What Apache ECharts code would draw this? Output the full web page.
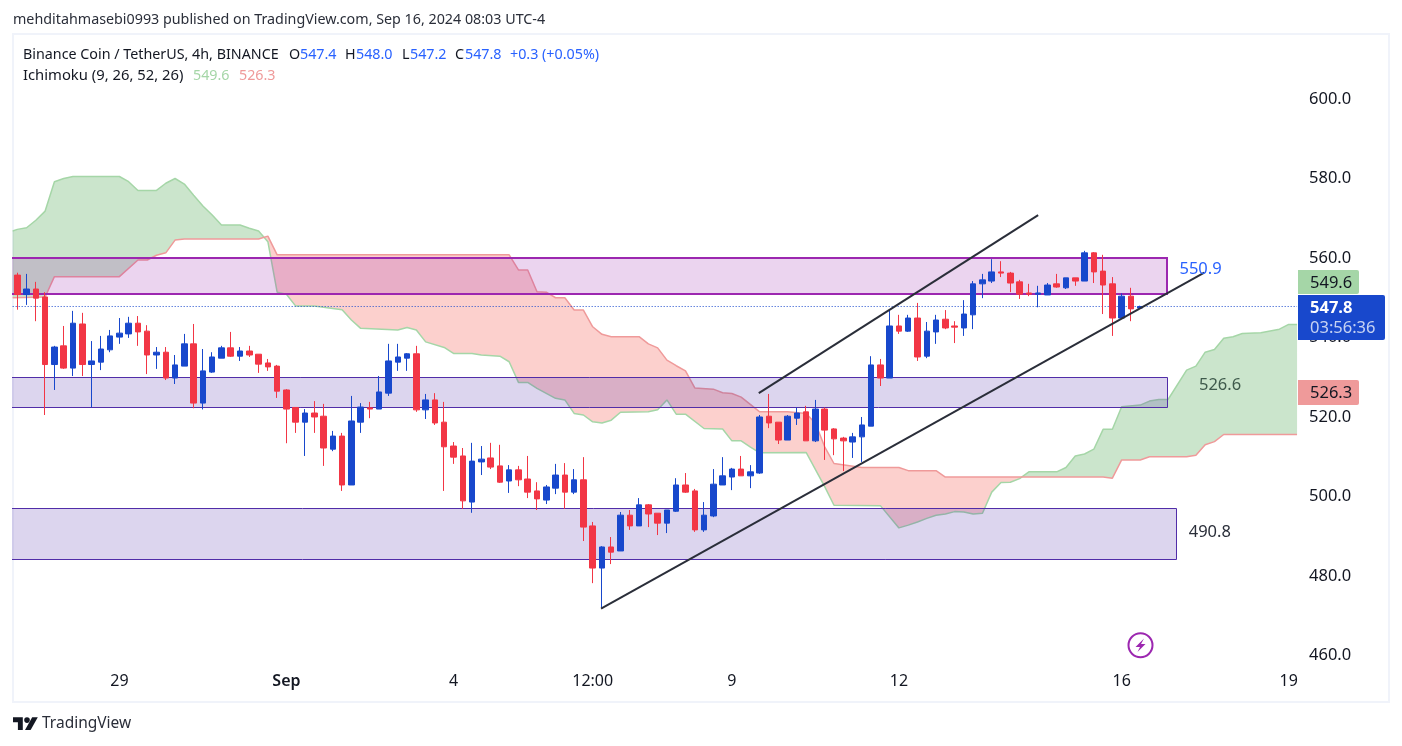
<!DOCTYPE html>
<html>
<head>
<meta charset="utf-8">
<title>Binance Coin / TetherUS, 4h</title>
<script src="https://cdn.jsdelivr.net/npm/echarts@6/dist/echarts.min.js"></script>
<style>
html, body { margin: 0; padding: 0; background: #ffffff; }
#main { width: 1402px; height: 746px; }
</style>
</head>
<body>
<div id="main"></div>
<script>
// open, close, low, high - one row per 4h bar
const candles = [
  [555.7,550.8,547.0,556.3],[550.8,552.2,548.2,556.0],[552.2,549.9,544.1,554.0],[550.2,533.2,520.5,551.4],
  [533.2,537.6,526.8,537.9],[537.9,532.3,532.1,542.9],[532.3,543.6,530.3,546.7],[543.4,533.2,530.3,546.2],
  [533.2,534.1,522.4,539.1],[533.8,537.1,531.8,540.4],[536.9,540.4,536.3,541.9],[540.1,541.1,538.4,544.9],
  [540.9,543.6,539.9,545.2],[543.6,541.4,537.9,545.4],[541.6,535.6,530.8,543.1],[535.6,536.3,532.1,537.6],
  [536.3,529.8,529.3,537.6],[529.8,533.1,528.3,535.6],[532.8,538.4,532.8,540.9],[538.4,523.5,522.2,543.4],
  [523.5,531.6,521.9,537.1],[531.3,535.1,531.1,536.3],[534.8,537.4,534.8,537.9],[537.4,535.3,535.1,541.4],
  [535.3,536.6,534.1,537.6],[536.6,535.6,535.1,537.9],[535.8,533.3,531.1,535.8],[533.6,532.6,531.6,534.6],
  [532.8,526.5,524.8,533.1],[526.8,522.0,513.4,527.0],[522.4,518.7,516.0,522.4],[518.7,521.0,510.2,522.0],
  [521.0,520.0,516.0,524.0],[520.2,512.2,507.7,523.3],[511.9,515.2,511.4,516.5],[515.2,502.9,501.4,516.0],
  [502.9,519.0,502.9,525.3],[518.7,522.5,516.0,523.5],[522.3,522.0,519.7,523.8],[522.0,526.3,522.0,530.3],
  [526.0,534.1,525.3,538.4],[533.8,535.1,531.6,538.4],[534.8,535.9,531.6,536.1],[535.9,521.8,521.3,537.9],
  [521.8,524.3,519.5,525.8],[524.3,518.5,518.0,526.0],[518.7,512.5,501.4,523.8],[512.7,509.9,508.2,513.7],
  [510.2,498.9,496.9,512.2],[498.6,508.9,495.9,513.5],[508.7,509.4,505.4,512.7],[509.7,507.4,506.9,513.5],
  [507.7,503.6,503.4,513.0],[503.9,506.7,500.9,507.9],[506.7,504.2,502.6,507.7],[504.4,501.1,499.6,510.2],
  [501.4,499.4,496.6,503.6],[499.1,502.4,498.1,502.9],[502.1,505.4,500.6,508.2],[505.4,501.1,496.9,508.4],
  [501.1,504.2,500.6,506.9],[504.2,492.3,488.8,509.9],[492.6,482.0,478.2,493.6],[482.0,487.3,472.0,487.5],
  [487.3,486.0,483.0,489.8],[486.3,495.3,486.3,496.1],[495.3,492.6,491.6,496.6],[492.6,497.9,492.6,499.6],
  [497.9,495.6,492.3,498.1],[495.8,493.3,490.3,495.8],[493.3,496.6,490.8,496.6],[496.3,502.9,496.1,504.6],
  [502.9,501.1,500.9,505.9],[501.4,491.6,491.1,501.9],[491.6,495.3,491.1,498.6],[495.1,503.1,494.8,506.9],
  [502.9,505.2,502.9,509.9],[504.9,506.9,501.6,507.2],[506.9,505.2,505.2,510.2],[505.2,506.2,502.1,507.9],
  [505.9,520.0,505.7,520.5],[520.2,518.5,517.2,525.8],[518.7,514.2,513.2,518.7],[514.2,520.2,514.2,520.5],
  [519.7,521.0,518.0,522.4],[521.3,514.0,514.0,522.8],[514.0,522.0,513.7,524.3],[522.0,516.7,509.2,522.4],
  [517.0,514.5,510.4,517.2],[514.7,514.0,506.4,515.0],[513.7,515.0,509.7,516.0],[515.0,518.0,508.7,520.0],
  [517.7,533.1,517.7,535.3],[533.1,529.8,527.8,534.6],[529.8,542.9,529.8,546.9],[542.9,541.6,540.9,545.7],
  [541.6,544.9,541.4,545.7],[544.9,535.1,534.1,548.7],[535.3,541.6,534.8,543.9],[541.4,544.4,538.4,545.7],
  [544.6,542.4,542.1,546.9],[542.9,542.6,538.6,544.1],[542.4,545.9,540.4,549.4],[545.7,553.5,542.1,554.2],
  [553.5,554.5,549.9,556.0],[554.2,556.5,553.7,559.7],[556.5,556.2,555.2,559.2],[556.2,553.7,551.4,556.5],
  [554.0,550.9,549.7,554.5],[551.2,550.9,550.4,553.5],[550.9,551.2,547.6,553.0],[550.7,553.2,550.7,553.7],
  [553.5,552.7,552.5,556.0],[552.5,555.0,552.2,555.0],[555.0,554.2,553.0,555.0],[554.2,561.3,554.2,561.8],
  [561.3,556.5,553.7,561.5],[556.7,553.2,545.9,560.8],[553.5,544.9,540.4,555.2],[544.9,550.4,544.9,551.1],
  [550.4,547.2,544.1,552.5],[547.4,547.8,547.2,548.0]
];

// Ichimoku leading spans as [bar, price] at their corners
const spanA = [
  [-0.5,566.8],[0,567.2],[1,567.6],[2,569.5],[3,571.8],[4,579.2],[5,580.0],[6,580.5],[11,580.5],[12,579.2],
  [13,577.0],[15,577.0],[16,578.8],[17,580.0],[18,578.6],[19,575.8],[20,573.1],[21,570.8],[22,568.3],[24,568.3],
  [25,567.5],[26,566.8],[27,564.1],[28,551.4],[29,550.9],[30,547.9],[32,547.9],[35,547.0],[36,544.4],[37,542.3],
  [41,541.9],[42,542.5],[43,541.9],[44,538.9],[46,537.5],[47,536.0],[49,536.0],[50,535.6],[52,535.3],[53,533.9],
  [54,528.7],[55,528.7],[56,527.2],[58,524.7],[59,524.3],[60,520.9],[61,520.5],[62,518.8],[63,518.5],[64,519.2],
  [65,521.2],[68,521.3],[69,521.8],[70,524.3],[71,520.7],[72,520.7],[74,517.1],[76,517.0],[77,514.0],[78,514.0],
  [79,512.4],[80,511.0],[85,511.1],[87,502.5],[88,497.8],[93,497.7],[95,492.1],[96,492.8],[97,493.6],[98,494.5],
  [99,495.3],[100,495.6],[101,496.2],[102,496.1],[103,495.6],[104,495.8],[105,501.1],[106,503.5],[107,503.6],[108,504.5],
  [109,506.2],[112,506.2],[113,507.3],[114,510.2],[115,510.7],[116,511.9],[117,516.9],[118,516.9],[119,522.6],[121,523.0],
  [122,524.0],[123,524.4],[124,524.4],[126,531.8],[127,532.8],[128,536.3],[129,537.0],[130,539.8],[131,540.2],[132,541.0],
  [134,541.2],[136,542.1],[137,543.3],[137.9,543.3]
];
const spanB = [
  [-0.5,550.0],[3,550.2],[4,555.3],[11,555.3],[13,559.5],[14,559.5],[15,560.7],[16,561.3],[17,564.5],[18,564.8],
  [26,564.8],[27,565.5],[28,560.8],[53,560.8],[54,557.0],[55,557.0],[56,551.5],[57,551.4],[58,550.0],[59,550.0],
  [60,546.9],[61,546.9],[62,542.7],[63,540.8],[64,540.2],[67,540.2],[68,538.4],[69,537.4],[70,534.3],[71,532.9],
  [72,531.6],[73,527.3],[75,527.0],[76,526.1],[77,525.9],[78,525.0],[80,521.3],[83,521.3],[85,520.9],[86,518.4],
  [87,512.5],[88,508.3],[91,507.3],[95,507.3],[96,506.5],[99,506.5],[100,504.9],[117,504.9],[118,504.6],[119,509.2],
  [121,509.2],[122,510.0],[126,510.0],[127,510.4],[128,513.0],[129,513.8],[130,515.6],[137.9,515.6]
];

// drawn zones: first bar, last bar, top price, bottom price (they start left of the visible range)
const zoneTop = [[-3,123.9,560.0,550.9]];
const zonesLow = [[-3,123.9,530.0,522.4],[-3,124.9,497.1,484.3]];

const channelUpper = [[79.9,526.0],[110,570.8]];
const channelLower = [[62.9,471.8],[127.9,556.3]];

const lastPrice = 547.8;
const firstBar = -0.5;
const lastBar = 137.9;

const noteSpots = [[127.5,557.2],[129.6,528.05],[128.5,491.1]];
const noteLabels = ['550.9','526.6','490.8'];
const noteColors = ['#2962ff','#3f5a4c','#2a2e39'];

const xTickBars = [11,29,47,62,77,95,119,137];
const xTickLabels = ['29','{b|Sep}','4','12:00','9','12','16','19'];

const UP = '#1848cc';
const DOWN = '#f23645';
const FONT = '"Noto Sans", sans-serif';

// value of a span polyline at bar x
function spanAt(span, x) {
    for (let i = 1; i < span.length; i++) {
        if (x <= span[i][0]) {
            const a = span[i - 1], b = span[i];
            return a[1] + (b[1] - a[1]) * (x - a[0]) / (b[0] - a[0]);
        }
    }
    return span[span.length - 1][1];
}

// split the cloud in runs where one span stays on top, so the fill changes colour at the crossings
function cloudRuns() {
    const xs = Array.from(new Set(spanA.concat(spanB).map(p => p[0]))).sort((a, b) => a - b);
    const runs = [];
    let run = null;
    xs.forEach(x => {
        const a = spanAt(spanA, x), b = spanAt(spanB, x);
        const up = a >= b;
        if (run && run.up !== up) {
            const px = run.pts[run.pts.length - 1];
            const d0 = px[1] - px[2], d1 = a - b;
            const cx = px[0] + (x - px[0]) * d0 / (d0 - d1);
            const cy = spanAt(spanA, cx);
            run.pts.push([cx, cy, cy]);
            runs.push(run);
            run = { up: up, pts: [[cx, cy, cy]] };
        }
        if (!run) run = { up: up, pts: [] };
        run.pts.push([x, a, b]);
    });
    runs.push(run);
    return runs;
}
const runs = cloudRuns();

function renderCloud(params, api) {
    if (params.dataIndex !== 0) return null;
    return {
        type: 'group',
        children: runs.map(r => {
            const top = r.pts.map(p => api.coord([p[0], p[1]]));
            const bottom = r.pts.map(p => api.coord([p[0], p[2]])).reverse();
            return {
                type: 'polygon',
                shape: { points: top.concat(bottom) },
                style: { fill: r.up ? 'rgba(67,160,71,0.28)' : 'rgba(244,67,54,0.25)' }
            };
        })
    };
}

function renderZone(fill, stroke, width) {
    const snap = v => Math.round(v) + (width % 2 ? 0.5 : 0);
    return function(params, api) {
        const p0 = api.coord([api.value(0), api.value(2)]);
        const p1 = api.coord([api.value(1), api.value(3)]);
        const x0 = snap(p0[0]), y0 = snap(p0[1]);
        return {
            type: 'rect',
            shape: { x: x0, y: y0, width: snap(p1[0]) - x0, height: snap(p1[1]) - y0 },
            style: { fill: fill, stroke: stroke, lineWidth: width }
        };
    };
}

function renderNote(params, api) {
    const p = api.coord([api.value(0), api.value(1)]);
    return {
        type: 'text',
        x: p[0],
        y: p[1],
        style: {
            text: noteLabels[params.dataIndex],
            fill: noteColors[params.dataIndex],
            font: '16.5px ' + FONT,
            align: 'center',
            verticalAlign: 'middle'
        }
    };
}

function label(text, x, y, fill, size, weight) {
    return {
        type: 'text',
        z: 100,
        silent: true,
        style: {
            text: text,
            x: x,
            y: y,
            fill: fill,
            font: (weight || 'normal') + ' ' + (size || 14.3) + 'px ' + FONT,
            verticalAlign: 'middle'
        }
    };
}

function tag(x, y, w, h, fill) {
    return {
        type: 'rect',
        z: 99,
        silent: true,
        shape: { x: x, y: y, width: w, height: h, r: [0, 2, 2, 0] },
        style: { fill: fill }
    };
}

const TEXT = '#131722';
const BLUE = '#2962ff';

const myChart = echarts.init(document.getElementById('main'));
myChart.setOption({
    animation: false,
    backgroundColor: '#ffffff',
    grid: { left: 12.66, top: 35, width: 1284.4, height: 620.5 },
    xAxis: {
        type: 'value',
        min: firstBar,
        max: lastBar,
        splitLine: { show: false },
        axisLine: { show: false },
        axisTick: { show: false },
        axisLabel: {
            customValues: xTickBars,
            margin: 18,
            color: TEXT,
            fontSize: 16,
            fontFamily: FONT,
            formatter: v => xTickLabels[xTickBars.indexOf(v)],
            rich: { b: { fontSize: 16, fontFamily: FONT, fontWeight: 600, color: TEXT } }
        }
    },
    yAxis: {
        type: 'value',
        position: 'right',
        min: 460,
        max: 616.1,
        interval: 20,
        scale: true,
        splitLine: { show: false },
        axisLine: { show: false },
        axisTick: { show: false },
        axisLabel: {
            margin: 12,
            color: TEXT,
            fontSize: 16.5,
            fontFamily: FONT,
            padding: [2, 0, 0, 0],
            showMaxLabel: false,
            formatter: v => v.toFixed(1)
        }
    },
    series: [
        { type: 'custom', z: 1, silent: true, data: spanA, renderItem: renderCloud },
        {
            type: 'line', z: 2, silent: true, data: spanA, showSymbol: false,
            lineStyle: { color: '#a5d6a7', width: 1.5 }
        },
        {
            type: 'line', z: 2, silent: true, data: spanB, showSymbol: false,
            lineStyle: { color: '#ef9a9a', width: 1.5 }
        },
        {
            type: 'custom', z: 3, silent: true, clip: true, data: zoneTop, encode: { x: [0, 1], y: [2, 3] },
            renderItem: renderZone('rgba(156,39,176,0.2)', '#9c27b0', 2)
        },
        {
            type: 'custom', z: 3, silent: true, clip: true, data: zonesLow, encode: { x: [0, 1], y: [2, 3] },
            renderItem: renderZone('rgba(81,45,168,0.2)', '#512da8', 1)
        },
        {
            type: 'line', z: 4, silent: true, showSymbol: false,
            data: [[firstBar, lastPrice], [lastBar, lastPrice]],
            lineStyle: { color: UP, width: 1, type: [1, 2] }
        },
        {
            type: 'candlestick', z: 5, silent: true, barWidth: 6,
            data: candles.map((c, i) => [i].concat(c)),
            itemStyle: { color: UP, color0: DOWN, borderColor: UP, borderColor0: DOWN, borderColorDoji: DOWN, borderWidth: 1 }
        },
        {
            type: 'line', z: 6, silent: true, data: channelUpper, showSymbol: false,
            lineStyle: { color: '#2a2e39', width: 2 }
        },
        {
            type: 'line', z: 6, silent: true, data: channelLower, showSymbol: false,
            lineStyle: { color: '#2a2e39', width: 2 }
        },
        { type: 'custom', z: 7, silent: true, data: noteSpots, renderItem: renderNote }
    ],
    graphic: [
        // frame
        { type: 'rect', z: 0, silent: true, shape: { x: 13, y: 34, width: 1376, height: 668 }, style: { fill: 'none', stroke: '#f0f3fa', lineWidth: 2 } },

        label('mehditahmasebi0993 published on TradingView.com, Sep 16, 2024 08:03 UTC-4', 13, 20, '#2a2e39'),

        // legend
        label('Binance Coin / TetherUS, 4h, BINANCE', 23, 55, TEXT),
        label('O', 289, 55, TEXT), label('547.4', 300, 55, BLUE),
        label('H', 345, 55, TEXT), label('548.0', 356, 55, BLUE),
        label('L', 402, 55, TEXT), label('547.2', 410, 55, BLUE),
        label('C', 455, 55, TEXT), label('547.8', 465, 55, BLUE),
        label('+0.3 (+0.05%)', 510, 55, BLUE),
        label('Ichimoku (9, 26, 52, 26)', 23, 76, TEXT, 14.8),
        label('549.6', 193, 76, '#a5d6a7'),
        label('526.3', 239, 76, '#ef9a9a'),

        // price tags
        tag(1298, 270, 61, 24, '#a5d6a7'),
        label('549.6', 1310, 283, TEXT, 16.5),
        tag(1298, 295, 87, 45, UP),
        label('547.8', 1310, 308, '#ffffff', 16.5, 'bold'),
        label('03:56:36', 1310, 328, 'rgba(255,255,255,0.75)', 16.5),
        tag(1298, 380, 61, 25, '#ef9a9a'),
        label('526.3', 1310, 393, TEXT, 16.5),

        // publication badge
        { type: 'circle', z: 100, silent: true, shape: { cx: 1140.5, cy: 645.3, r: 12 }, style: { fill: 'none', stroke: '#9c27b0', lineWidth: 2 } },
        {
            type: 'polygon', z: 100, silent: true,
            shape: { points: [[1144, 638.5], [1135.5, 647], [1140, 647], [1137.5, 652], [1145.5, 644], [1141, 644]] },
            style: { fill: '#9c27b0' }
        },

        // logo
        {
            type: 'polygon', z: 100, silent: true,
            shape: { points: [[13, 717.3], [22.8, 717.3], [22.8, 730], [17.9, 730], [17.9, 722.2], [13, 722.2]] },
            style: { fill: TEXT }
        },
        {
            type: 'polygon', z: 100, silent: true,
            shape: { points: [[32.2, 717.3], [37.8, 717.3], [30.6, 730], [25, 730]] },
            style: { fill: TEXT }
        },
        { type: 'circle', z: 100, silent: true, shape: { cx: 27, cy: 720.1, r: 2.8 }, style: { fill: TEXT } },
        label('TradingView', 42, 724, '#2a2e39', 15.5)
    ]
});
</script>
</body>
</html>
